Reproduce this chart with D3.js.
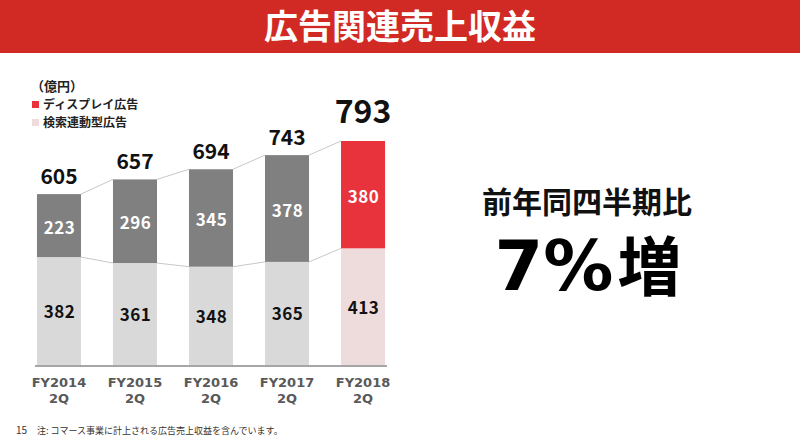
<!DOCTYPE html>
<html><head><meta charset="utf-8">
<script src="https://cdn.jsdelivr.net/npm/d3@7"></script>
<style>
html,body{margin:0;padding:0;background:#fff;}
svg{display:block;}
text{font-family:"Noto Sans CJK JP","Noto Sans",sans-serif;}
</style></head>
<body>
<svg id="chart" width="800" height="447"></svg>
<script>
const categories = ["FY2014 2Q","FY2015 2Q","FY2016 2Q","FY2017 2Q","FY2018 2Q"];
const searchAds = [382,361,348,365,413];
const displayAds = [223,296,345,378,380];
const totals = [605,657,694,743,793];
const title = "広告関連売上収益";
const unitLabel = "（億円）";
const legendLabels = ["ディスプレイ広告","検索連動型広告"];
const growthLabel = "前年同四半期比";
const growthNumber = "7%";
const growthWord = "増";
const footnote = "注: コマース事業に計上される広告売上収益を含んでいます。";
const pageNo = "15";

const svg = d3.select("#chart");
// Title bar
svg.append("rect").attr("x",0).attr("y",0).attr("width",800).attr("height",53).attr("fill","#d12a25");
svg.append("text").attr("x",400).attr("y",39).attr("text-anchor","middle")
  .attr("fill","#fff").attr("font-size",34).attr("font-weight",700).text(title);

const x = d3.scaleBand().domain(categories).range([21,401]).paddingInner(0.421).paddingOuter(0.21);
const y = d3.scaleLinear().domain([0,793]).range([365,141]);
const bw = x.bandwidth();
const last = categories.length-1;
const colDark = (i)=> i===last ? "#e8333c" : "#808080";
const colLight = (i)=> i===last ? "#eedcdc" : "#d9d9d9";

const data = categories.map((c,i)=>({c,i,s:searchAds[i],d:displayAds[i],t:totals[i]}));

// connector lines
const g = svg.append("g");
for(let i=0;i<last;i++){
  const a=data[i], b=data[i+1];
  g.append("line").attr("x1",x(a.c)+bw).attr("y1",y(a.s+a.d)).attr("x2",x(b.c)).attr("y2",y(b.s+b.d))
    .attr("stroke","#c8c8c8").attr("stroke-width",1);
  g.append("line").attr("x1",x(a.c)+bw).attr("y1",y(a.s)).attr("x2",x(b.c)).attr("y2",y(b.s))
    .attr("stroke","#c8c8c8").attr("stroke-width",1);
}
// bars
g.selectAll(".lo").data(data).join("rect").attr("x",d=>x(d.c)).attr("width",bw)
  .attr("y",d=>y(d.s)).attr("height",d=>y(0)-y(d.s)).attr("fill",d=>colLight(d.i));
g.selectAll(".hi").data(data).join("rect").attr("x",d=>x(d.c)).attr("width",bw)
  .attr("y",d=>y(d.s+d.d)).attr("height",d=>y(d.s)-y(d.s+d.d)).attr("fill",d=>colDark(d.i));
// baseline
g.append("line").attr("x1",35).attr("x2",387).attr("y1",366).attr("y2",366).attr("stroke","#a6a6a6").attr("stroke-width",2);

// segment labels
g.selectAll(".ls").data(data).join("text").attr("x",d=>x(d.c)+bw/2+0.5).attr("y",d=>(y(d.s)+y(0))/2+7)
  .attr("text-anchor","middle").attr("font-size",17).attr("font-weight",700).attr("letter-spacing",0.5).attr("fill","#111").text(d=>d.s);
g.selectAll(".ld").data(data).join("text").attr("x",d=>x(d.c)+bw/2+0.5).attr("y",d=>(y(d.s)+y(d.s+d.d))/2+8)
  .attr("text-anchor","middle").attr("font-size",17).attr("font-weight",700).attr("letter-spacing",0.5).attr("fill","#fff").text(d=>d.d);
// totals
g.selectAll(".lt").data(data).join("text").attr("x",d=>x(d.c)+bw/2)
  .attr("y",d=>d.i===last ? y(d.t)-18 : y(d.t)-10)
  .attr("text-anchor","middle").attr("font-size",d=>d.i===last?32:21).attr("font-weight",700).attr("fill","#111").text(d=>d.t);

// x axis labels
g.selectAll(".xl1").data(data).join("text").attr("text-anchor","middle")
  .style("font-family","'DejaVu Sans',sans-serif")
  .attr("font-size",13).attr("font-weight",700).attr("fill","#595959")
  .attr("x",d=>x(d.c)+bw/2).attr("y",387).text(d=>d.c.split(" ")[0]);
g.selectAll(".xl2").data(data).join("text").attr("text-anchor","middle")
  .style("font-family","'DejaVu Sans',sans-serif")
  .attr("font-size",13).attr("font-weight",700).attr("fill","#595959")
  .attr("x",d=>x(d.c)+bw/2).attr("y",403).text(d=>d.c.split(" ")[1]);

// legend
svg.append("text").attr("x",31).attr("y",91).attr("font-size",13).attr("font-weight",700).attr("fill","#222").text(unitLabel);
const lg = svg.append("g");
[["#e8333c",legendLabels[0],104],["#eedcdc",legendLabels[1],122]].forEach(([c,t,yy])=>{
  lg.append("rect").attr("x",32).attr("y",yy-3).attr("width",7).attr("height",7).attr("fill",c);
  lg.append("text").attr("x",43).attr("y",yy+5).attr("font-size",12).attr("font-weight",700).attr("fill","#222").text(t);
});

// right side
svg.append("text").attr("x",587).attr("y",213).attr("text-anchor","middle").attr("font-size",30)
  .attr("font-weight",700).attr("fill","#111").text(growthLabel);
const gt = svg.append("text").attr("x",588).attr("y",290).attr("text-anchor","middle")
  .attr("font-weight",700).attr("fill","#000");
gt.append("tspan").style("font-family","'DejaVu Sans',sans-serif").attr("font-size",70).text(growthNumber);
gt.append("tspan").attr("font-size",64).attr("dx",4).attr("dy",0).text(growthWord);

// footnote
svg.append("text").attr("x",16).attr("y",434).attr("font-size",10).attr("fill","#333").text(pageNo);
svg.append("text").attr("x",37).attr("y",434).attr("font-size",9).attr("fill","#333").text(footnote);
</script>
</body></html>
